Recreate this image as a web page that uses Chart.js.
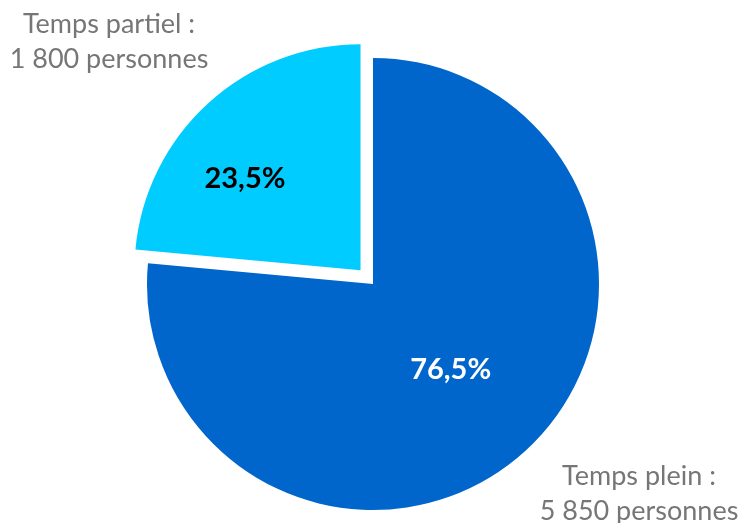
<!DOCTYPE html>
<html>
<head>
<meta charset="utf-8">
<script src="https://cdn.jsdelivr.net/npm/chart.js@4/dist/chart.umd.min.js"></script>
<style>
  html, body { margin: 0; padding: 0; background: #ffffff; }
  #wrap { width: 742px; height: 523px; position: relative; }
</style>
</head>
<body>
<div id="wrap"><canvas id="chart-pie" width="742" height="523"></canvas></div>
<script>
// Répartition des effectifs (personnes)
const categories = ["Temps plein", "Temps partiel"];
const headcounts = [5850, 1800];
const sliceColors = ["#0066CC", "#00CCFF"];
const sliceOffsets = [0, 74];            // Chart.js shifts a slice by offset / 4
const pctColors = ["#FFFFFF", "#000000"];

const TEXT_FONT = "Lato, 'Open Sans', sans-serif";
const total = headcounts.reduce((a, b) => a + b, 0);

function formatPct(v) {
  return (v * 100 / total).toFixed(1).replace(".", ",") + "%";
}
function formatCount(v) {
  return String(v).replace(/\B(?=(\d{3})+(?!\d))/g, " ");
}

// Percentages inside the slices + category captions outside
const sliceLabels = {
  id: "sliceLabels",
  afterDatasetsDraw(chart, args, opts) {
    const ctx = chart.ctx;
    const arcs = chart.getDatasetMeta(0).data;
    ctx.save();
    ctx.textAlign = "center";
    ctx.textBaseline = "middle";
    ctx.font = `bold ${opts.pctSize}px ${TEXT_FONT}`;
    arcs.forEach((arc, i) => {
      const mid = (arc.startAngle + arc.endAngle) / 2;
      const shift = (sliceOffsets[i] || 0) / 4;
      const cx = arc.x + Math.cos(mid) * shift;
      const cy = arc.y + Math.sin(mid) * shift;
      const a = mid + opts.angleShift[i] * Math.PI / 180;
      const r = arc.outerRadius * opts.radiusFrac[i];
      ctx.fillStyle = pctColors[i];
      ctx.fillText(formatPct(headcounts[i]), cx + Math.cos(a) * r, cy + Math.sin(a) * r);
    });

    ctx.textBaseline = "alphabetic";
    ctx.fillStyle = "#767676";
    ctx.font = `${opts.capSize}px ${TEXT_FONT}`;
    opts.captions.forEach((c, i) => {
      ctx.fillText(categories[i] + " :", c.x, c.y);
      ctx.fillText(formatCount(headcounts[i]) + " personnes", c.x, c.y + opts.lineGap);
    });
    ctx.restore();
  },
};

new Chart(document.getElementById("chart-pie").getContext("2d"), {
  type: "pie",
  data: {
    labels: categories,
    datasets: [{
      data: headcounts,
      backgroundColor: sliceColors,
      borderWidth: 0,
      offset: sliceOffsets,
      hoverOffset: 0,
    }],
  },
  options: {
    responsive: false,
    animation: false,
    radius: 226,
    layout: { padding: { left: 4, right: 0, top: 45, bottom: 0 } },
    events: [],
    plugins: {
      legend: { display: false },
      tooltip: { enabled: false },
      sliceLabels: {
        pctSize: 29,
        capSize: 27,
        lineGap: 35,
        radiusFrac: [0.51, 0.653],
        angleShift: [0, -9.2],
        captions: [
          { x: 639, y: 485 },
          { x: 109, y: 33 },
        ],
      },
    },
  },
  plugins: [sliceLabels],
});
</script>
</body>
</html>
